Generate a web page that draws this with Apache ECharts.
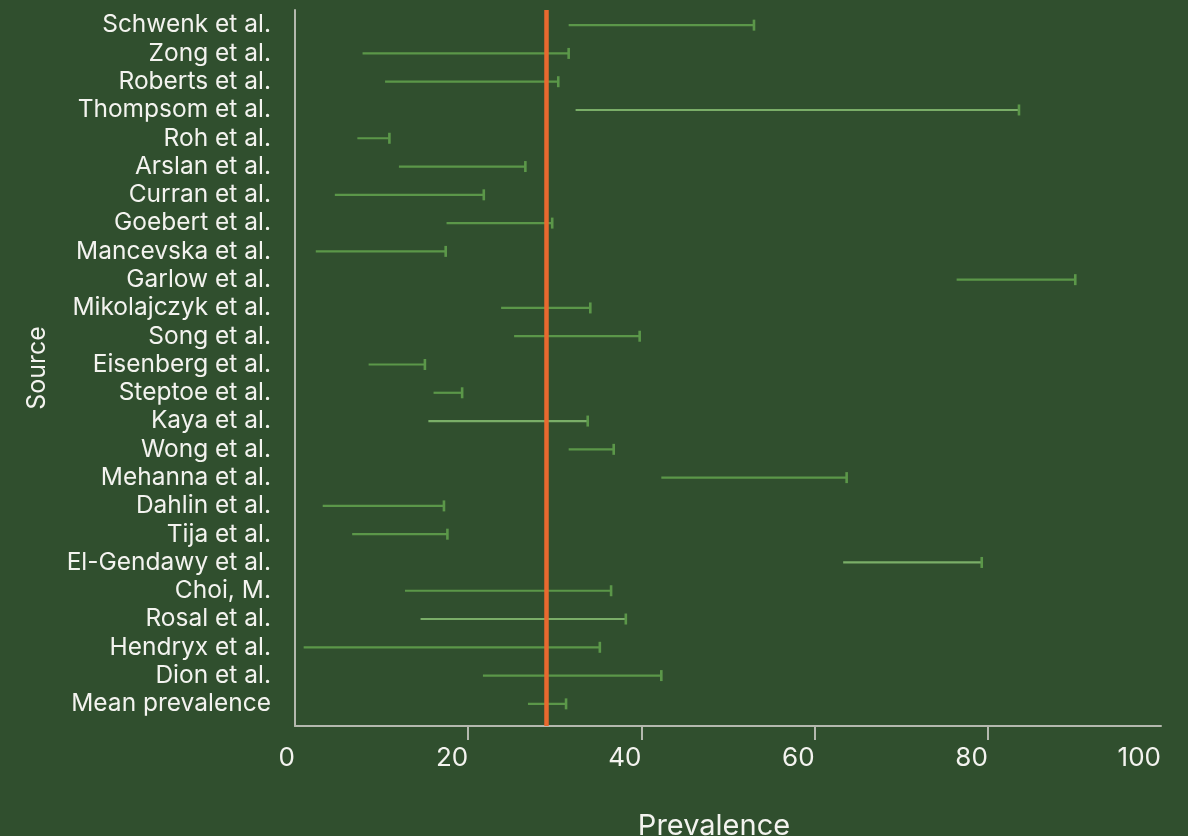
<!DOCTYPE html>
<html>
<head>
<meta charset="utf-8">
<script src="https://cdn.jsdelivr.net/npm/echarts@6/dist/echarts.min.js"></script>
<style>
html,body{margin:0;padding:0;background:#304f2e;}
#chart{width:1188px;height:836px;}
</style>
</head>
<body>
<div id="chart"></div>
<script>
const sources = ["Schwenk et al.","Zong et al.","Roberts et al.","Thompsom et al.","Roh et al.","Arslan et al.","Curran et al.","Goebert et al.","Mancevska et al.","Garlow et al.","Mikolajczyk et al.","Song et al.","Eisenberg et al.","Steptoe et al.","Kaya et al.","Wong et al.","Mehanna et al.","Dahlin et al.","Tija et al.","El-Gendawy et al.","Choi, M.","Rosal et al.","Hendryx et al.","Dion et al.","Mean prevalence"];
const lowValues  = [31.6, 7.8, 10.4, 32.4, 7.2, 12.0, 4.6, 17.5, 2.4, 76.4, 23.8, 25.3, 8.5, 16.0, 15.4, 31.6, 42.3, 3.2, 6.6, 63.3, 12.7, 14.5, 1.0, 21.7, 26.9];
const highValues = [53.0, 31.6, 30.4, 83.6, 10.9, 26.6, 21.8, 29.7, 17.4, 90.1, 34.1, 39.8, 15.0, 19.3, 33.8, 36.8, 63.7, 17.2, 17.6, 79.3, 36.5, 38.2, 35.2, 42.3, 31.3];
const meanPrevalence = 29.0;
const xTicks = [0, 20, 40, 60, 80, 100];

const lighterRows = new Set(["Thompsom et al.","Kaya et al.","El-Gendawy et al.","Rosal et al."]);
const FONT = 'Inter';
const TEXT = '#f3f3ef';
const AXIS = '#b4b8ae';

const chart = echarts.init(document.getElementById('chart'), null, {renderer:'canvas'});
const data = sources.map((s,i)=>[i, lowValues[i], highValues[i]]);

chart.setOption({
  backgroundColor:'#304f2e',
  animation:false,
  grid:[
    {left:295, right:27, top:11, height:707, outerBoundsMode:'none', containLabel:false},
    {left:295, right:27, top:10, bottom:110, outerBoundsMode:'none', containLabel:false}
  ],
  xAxis:[
    {gridIndex:0, type:'value', min:0, max:100, show:false},
    {gridIndex:1, type:'value', min:xTicks[0], max:xTicks[xTicks.length-1], interval:20,
     axisLine:{show:true, lineStyle:{color:AXIS, width:2}},
     axisTick:{show:true, length:14, lineStyle:{color:AXIS, width:2}, customValues:xTicks.slice(1,-1)},
     axisLabel:{color:TEXT, fontFamily:FONT, fontSize:26, margin:19, align:'right'},
     splitLine:{show:false},
     name:'Prevalence', nameLocation:'middle', nameGap:86,
     nameTextStyle:{color:TEXT, fontFamily:FONT, fontSize:29, padding:[0,28,0,0]}
    }
  ],
  yAxis:[
    {gridIndex:0, type:'category', data:sources, inverse:true,
     axisLine:{show:false}, axisTick:{show:false},
     axisLabel:{color:TEXT, fontFamily:FONT, fontSize:24.5, margin:24, interval:0},
     splitLine:{show:false}},
    {gridIndex:1, type:'value', min:0, max:1,
     axisLine:{show:true, lineStyle:{color:AXIS, width:2}},
     axisTick:{show:false}, axisLabel:{show:false}, splitLine:{show:false},
     name:'Source', nameLocation:'middle', nameGap:245, nameRotate:90,
     nameTextStyle:{color:TEXT, fontFamily:FONT, fontSize:25}}
  ],
  series:[
    {type:'custom', xAxisIndex:0, yAxisIndex:0, data:data,
     encode:{x:[1,2], y:0},
     renderItem:function(params, api){
       const y = api.value(0);
       const p1 = api.coord([api.value(1), y]);
       const p2 = api.coord([api.value(2), y]);
       const col = lighterRows.has(sources[params.dataIndex]) ? '#7aae68' : '#5b9749';
       return {type:'group', children:[
         {type:'line', shape:{x1:p1[0], y1:p1[1], x2:p2[0], y2:p2[1]}, style:{stroke:col, lineWidth:2.2}},
         {type:'line', shape:{x1:p2[0], y1:p2[1]-5.5, x2:p2[0], y2:p2[1]+5.5}, style:{stroke:'#5b9749', lineWidth:2.6}}
       ]};
     }
    },
    {type:'line', xAxisIndex:1, yAxisIndex:1, data:[], silent:true,
     markLine:{symbol:['none','none'], label:{show:false}, silent:true,
       lineStyle:{color:'#e8692f', width:4.5, type:'solid'},
       data:[{xAxis:meanPrevalence}]}
    }
  ]
});
</script>
</body>
</html>
